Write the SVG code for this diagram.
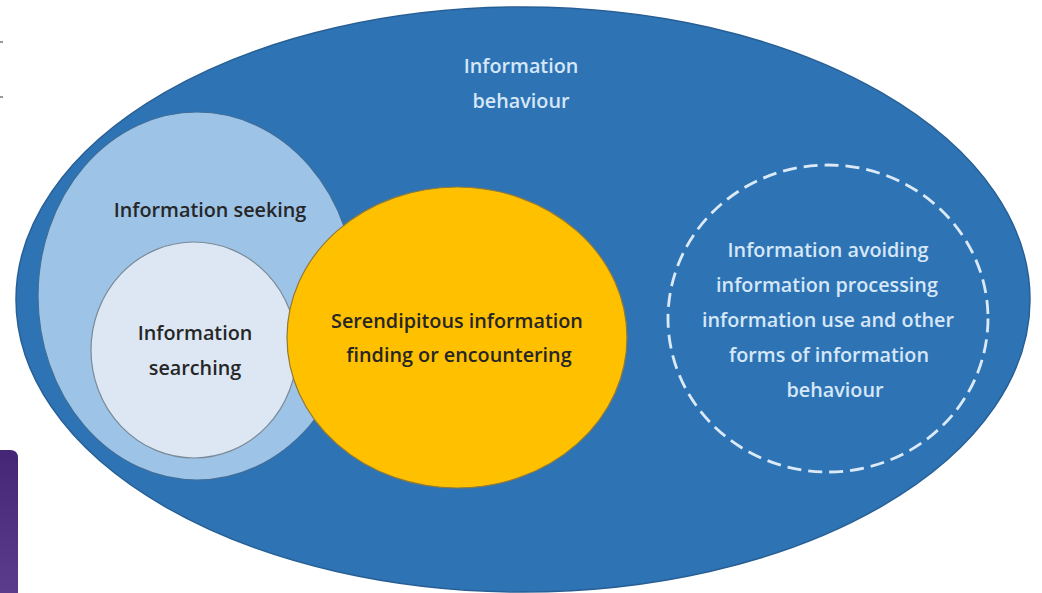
<svg xmlns="http://www.w3.org/2000/svg" width="1042" height="593" viewBox="0 0 1042 593">
  <style>
    text { font-family: "Open Sans", "Noto Sans", "Liberation Sans", sans-serif; font-size: 19.8px; font-weight: 600; text-anchor: middle; }
    .light { fill: #d6e7f8; }
    .dark { fill: #262626; }
  </style>
  <defs>
    <linearGradient id="purple" x1="0" y1="0" x2="0" y2="1">
      <stop offset="0" stop-color="#452676"/>
      <stop offset="1" stop-color="#5a3b8c"/>
    </linearGradient>
  </defs>
  <rect x="0" y="0" width="1042" height="593" fill="#ffffff"/>
  <g id="edge-marks" fill="#9a9a9a">
    <rect x="0" y="41" width="3" height="2"/>
    <rect x="0" y="96" width="3" height="2"/>
  </g>
  <path id="side-bar" d="M0 450 H10 Q18 450 18 458 V593 H0 Z" fill="url(#purple)"/>
  <g id="information-behaviour">
    <ellipse cx="523" cy="299.5" rx="507" ry="292.5" fill="#2e74b5" stroke="#275f95" stroke-width="1.5"/>
    <text class="light" x="521" y="73">Information</text>
    <text class="light" x="521" y="108">behaviour</text>
  </g>
  <g id="information-seeking">
    <ellipse cx="197" cy="296" rx="159" ry="184" fill="#9dc3e6" stroke="#3f6e99" stroke-width="1.2"/>
    <text class="dark" x="210" y="217">Information seeking</text>
  </g>
  <g id="information-searching">
    <ellipse cx="194" cy="350" rx="103" ry="108" fill="#dce7f3" stroke="#7a8a99" stroke-width="1.2"/>
    <text class="dark" x="195" y="340">Information</text>
    <text class="dark" x="195" y="375">searching</text>
  </g>
  <g id="serendipitous">
    <ellipse cx="457" cy="337.5" rx="170" ry="150.5" fill="#ffc000" stroke="#8f7a3a" stroke-width="1.2"/>
    <text class="dark" x="457" y="328">Serendipitous information</text>
    <text class="dark" x="459" y="362">finding or encountering</text>
  </g>
  <g id="other-behaviour">
    <ellipse cx="828" cy="318.5" rx="160" ry="153.5" fill="none" stroke="#dceaf8" stroke-width="2.8" stroke-dasharray="14 7"/>
    <text class="light" x="828" y="257">Information avoiding</text>
    <text class="light" x="827" y="292">information processing</text>
    <text class="light" x="828" y="327">information use and other</text>
    <text class="light" x="829" y="362">forms of information</text>
    <text class="light" x="835" y="397">behaviour</text>
  </g>
</svg>
